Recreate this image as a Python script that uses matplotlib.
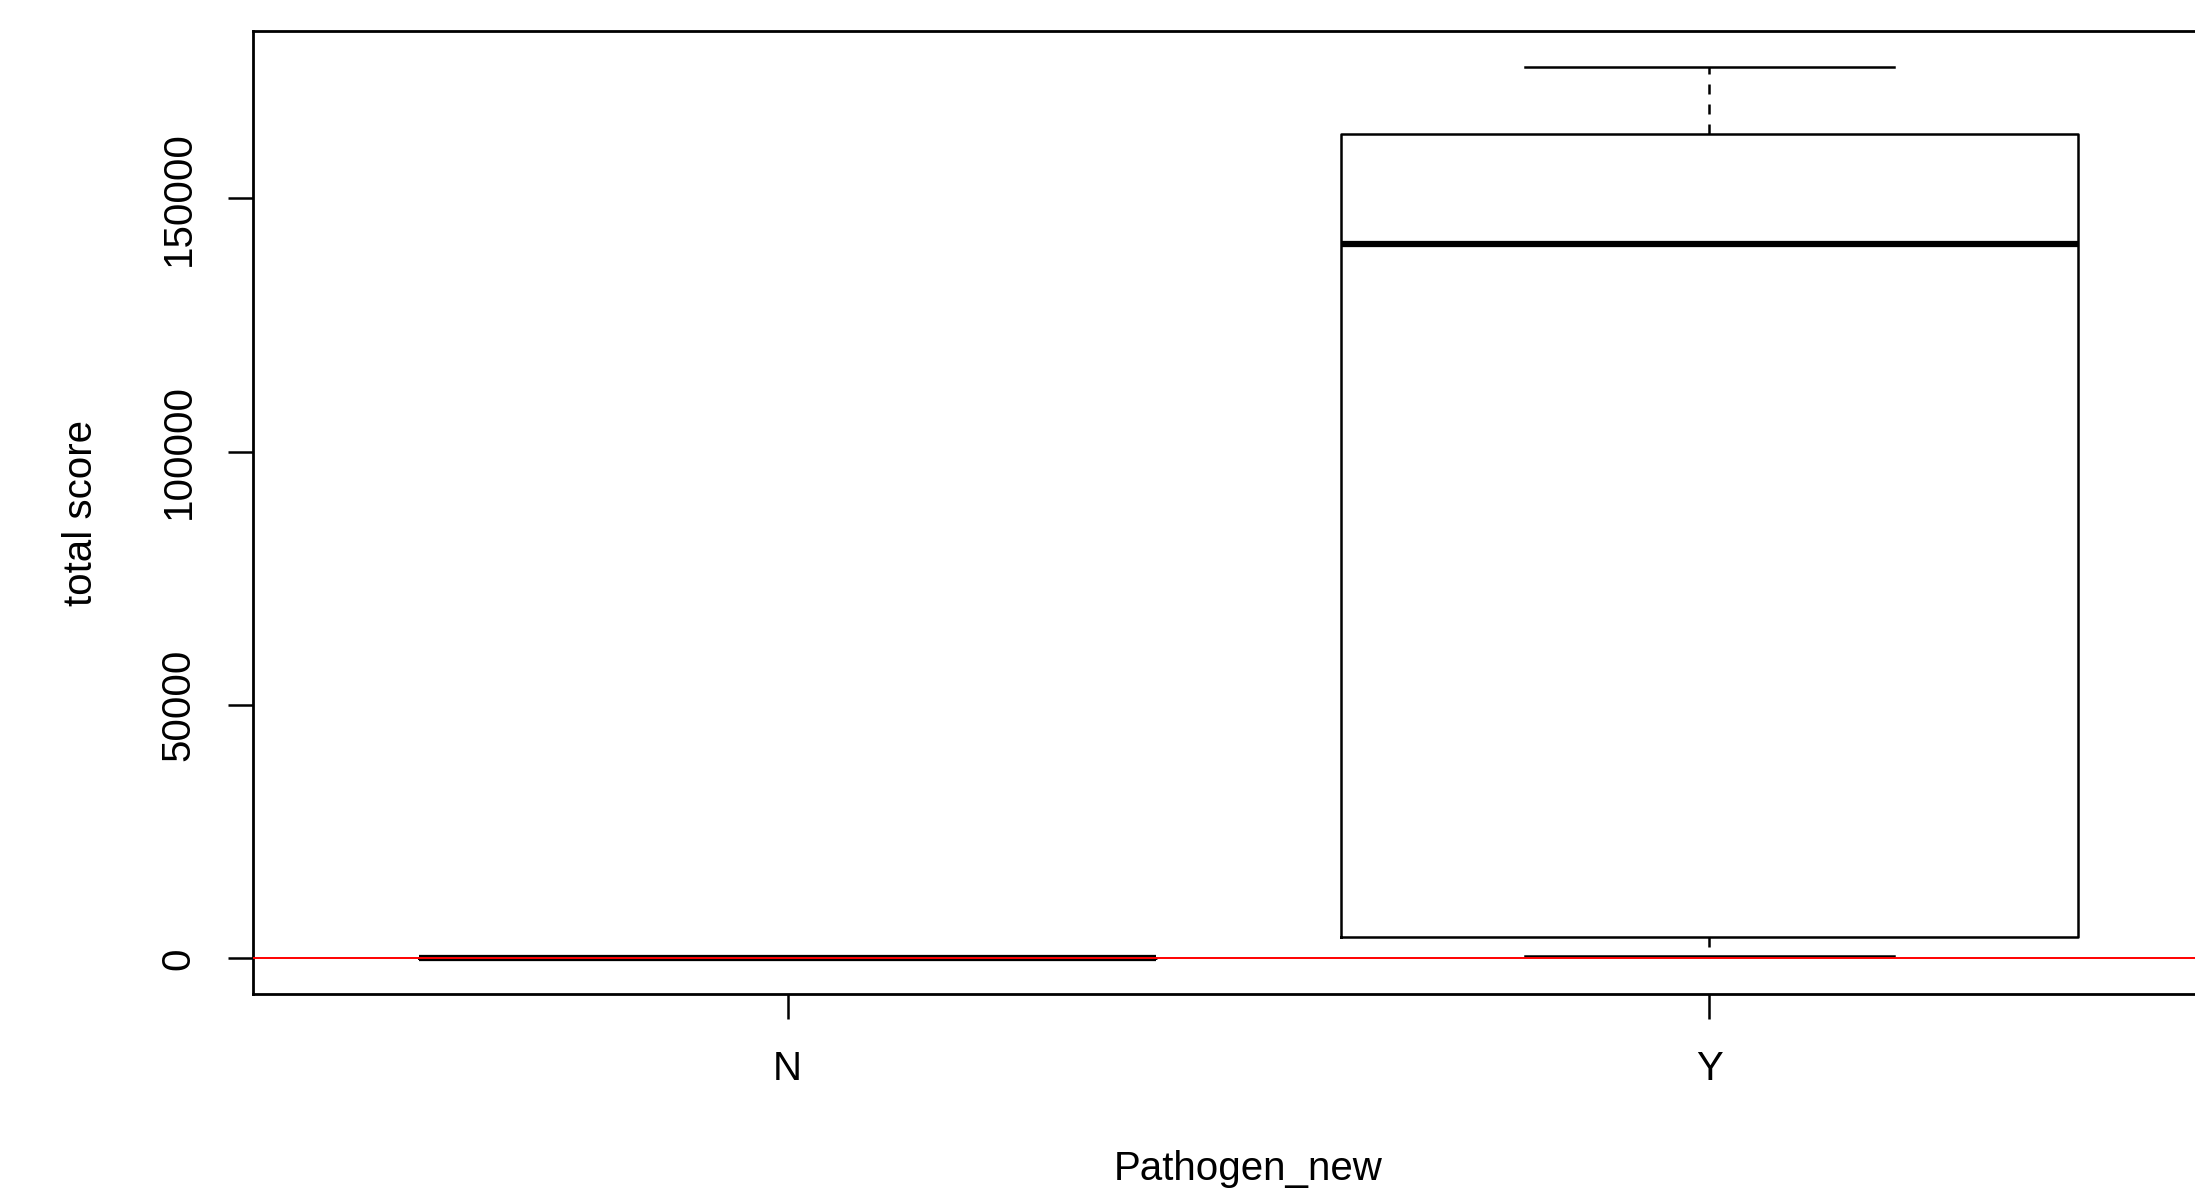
import matplotlib
matplotlib.use('Agg')
import matplotlib.pyplot as plt

plt.rcParams['font.family'] = ['Liberation Sans', 'DejaVu Sans']

# === Data ===
groups = ['N', 'Y']
whisker_low = [0, 500]
q1 = [0, 4200]
median = [0, 141000]
q3 = [0, 162800]
whisker_high = [0, 176000]

y_ticks = [0, 50000, 100000, 150000]

stats = []
for i, g in enumerate(groups):
    stats.append(dict(label=g, whislo=whisker_low[i], q1=q1[i], med=median[i],
                      q3=q3[i], whishi=whisker_high[i], fliers=[]))

# === Figure (axes runs past the right edge, like the cropped original) ===
W, H = 2195, 1194
fig = plt.figure(figsize=(W / 100, H / 100), dpi=100)
left, right = 253 / W, 2244 / W
bottom, top = 1 - 994 / H, 1 - 31 / H
ax = fig.add_axes([left, bottom, right - left, top - bottom])

lw = 1.8
ax.bxp(stats, positions=[1, 2], widths=0.8, showfliers=False,
       boxprops=dict(color='black', linewidth=lw),
       medianprops=dict(color='black', linewidth=4.5),
       whiskerprops=dict(color='black', linewidth=lw, linestyle=(0, (4, 4))),
       capprops=dict(color='black', linewidth=lw),
       capwidths=0.4)

ax.axhline(0, color='red', linewidth=1.4, zorder=5)

ax.set_xlim(0.42, 2.58)
ax.set_ylim(-7040, 183040)
ax.set_yticks(y_ticks)
ax.set_yticklabels([str(v) for v in y_ticks], rotation=90, va='center')
ax.set_xticks([1, 2])
ax.set_xticklabels(groups)

for s in ax.spines.values():
    s.set_linewidth(2)
ax.tick_params(axis='both', length=18, width=1.8, labelsize=29)
ax.tick_params(axis='y', pad=22)
ax.tick_params(axis='x', pad=22)

ax.set_xlabel('Pathogen_new', fontsize=29, labelpad=45)
ax.set_ylabel('total score', fontsize=29, labelpad=43)

fig.savefig('out.png', dpi=100)
